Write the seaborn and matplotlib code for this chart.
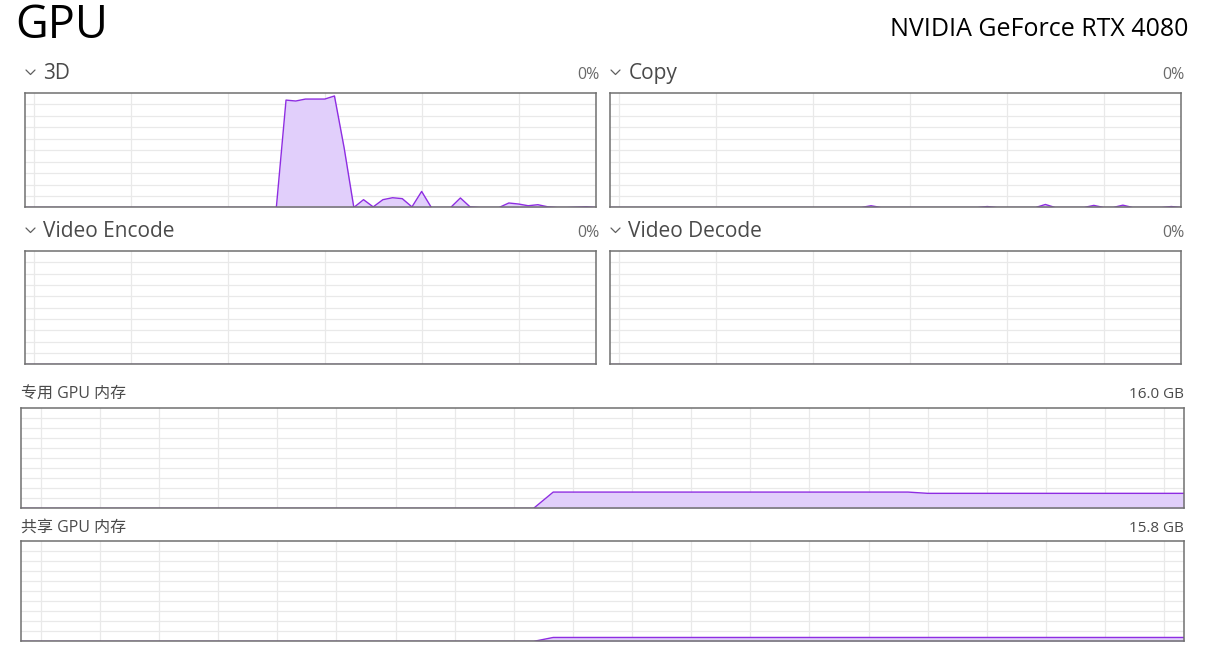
import matplotlib
matplotlib.use("Agg")
import matplotlib.pyplot as plt
from matplotlib.lines import Line2D
import seaborn as sns
import pandas as pd

# --- data (60 one-second samples) ---
seconds = list(range(60))

engine_3d = [0] * 27 + [93.8, 93.0, 94.7, 94.7, 94.7, 97.4, 52.0, 0, 6.8, 0.5,
                        6.8, 8.5, 7.7, 0.5, 14.0, 0, 0, 0, 8.3, 0.5,
                        0, 0, 0, 3.9, 3.0, 1.5, 2.4, 0.6, 0, 0,
                        0.3, 0.6, 0][:33]
engine_copy = [0] * 60
for i, v in [(27, 1.5), (39, 0.8), (45, 2.6), (50, 1.8), (53, 2.0), (58, 0.8)]:
    engine_copy[i] = v
engine_encode = [0] * 60
engine_decode = [0] * 60

dedicated_gb = [0] * 27 + [2.6] * 19 + [2.4] * 14
shared_gb = [0] * 27 + [0.62] * 33

dedicated_total = 16.0
shared_total = 15.8

W, H = 1211, 664
LINE = "#8e2de2"
FILL = "#e1cffb"
GRID = "#e9e9e9"
BORDER = "#707070"


def box(x0, y0, x1, y1):
    # pixel box (top-left origin) -> figure rect
    return [x0 / W, 1 - y1 / H, (x1 - x0) / W, (y1 - y0) / H]


def draw_graph(ax, values, ymax, vlines):
    df = pd.DataFrame({"t": seconds, "v": values})
    for y in range(1, 10):
        ax.axhline(ymax * y / 10, color=GRID, lw=0.9, zorder=0)
    for x in vlines:
        ax.axvline(x, color=GRID, lw=0.9, zorder=0)
    ax.fill_between(df["t"], df["v"], 0, color=FILL, lw=0, zorder=1)
    sns.lineplot(data=df, x="t", y="v", ax=ax, color=LINE, lw=1.0, zorder=2)
    ax.set_xlim(0, 59)
    # zero samples sit under the bottom border, as in Task Manager
    ax.set_ylim(ymax * 0.004, ymax)
    ax.set_xticks([])
    ax.set_yticks([])
    ax.set_xlabel("")
    ax.set_ylabel("")
    for s in ax.spines.values():
        s.set_color(BORDER)
        s.set_linewidth(1.1)
        s.set_zorder(10)


def chevron(fig, x, y):
    xs = [x / W, (x + 4.5) / W, (x + 9) / W]
    ys = [1 - y / H, 1 - (y + 4.5) / H, 1 - y / H]
    fig.add_artist(Line2D(xs, ys, color="#606060", lw=0.9))


sns.set_theme(style="white")
plt.rcParams["font.family"] = ["Open Sans", "Noto Sans CJK SC", "DejaVu Sans"]

fig = plt.figure(figsize=(W / 100, H / 100), dpi=100)
fig.patch.set_facecolor("white")

fig.text(15 / W, 1 - 38 / H, "GPU", fontsize=32.5, color="black", va="baseline", ha="left")
fig.text(1188 / W, 1 - 36 / H, "NVIDIA GeForce RTX 4080", fontsize=18, color="black",
         va="baseline", ha="right")

engine_vlines = [1, 11, 21, 31, 41, 51]
panels = [
    ("3D", engine_3d, 24.5, 596, 93, 207, 79),
    ("Copy", engine_copy, 609.5, 1181, 93, 207, 79),
    ("Video Encode", engine_encode, 24.5, 596, 251, 364, 237),
    ("Video Decode", engine_decode, 609.5, 1181, 251, 364, 237),
]
for title, vals, x0, x1, y0, y1, base in panels:
    ax = fig.add_axes(box(x0, y0, x1, y1))
    draw_graph(ax, vals, 100, engine_vlines)
    chevron(fig, x0 + 1.5, base - 9)
    fig.text((x0 + 19) / W, 1 - base / H, title, fontsize=15, color="#4a4a4a",
             va="baseline", ha="left")
    fig.text((x1 + 3.5) / W, 1 - base / H, "0%", fontsize=11.5, color="#6a6a6a",
             va="baseline", ha="right")

mem_vlines = list(range(1, 60, 3))
mem_panels = [
    ("专用 GPU 内存", dedicated_gb, dedicated_total, 408, 508, 395),
    ("共享 GPU 内存", shared_gb, shared_total, 541, 641, 528),
]
for title, vals, total, y0, y1, ty in mem_panels:
    ax = fig.add_axes(box(21, y0, 1184, y1))
    draw_graph(ax, vals, total, mem_vlines)
    fig.text(21 / W, 1 - ty / H, title, fontsize=11.5, color="#4a4a4a", va="center", ha="left")
    fig.text(1184 / W, 1 - ty / H, f"{total:.1f} GB", fontsize=11, color="#4a4a4a",
             va="center", ha="right")

fig.savefig("out.png", dpi=100, facecolor="white")
